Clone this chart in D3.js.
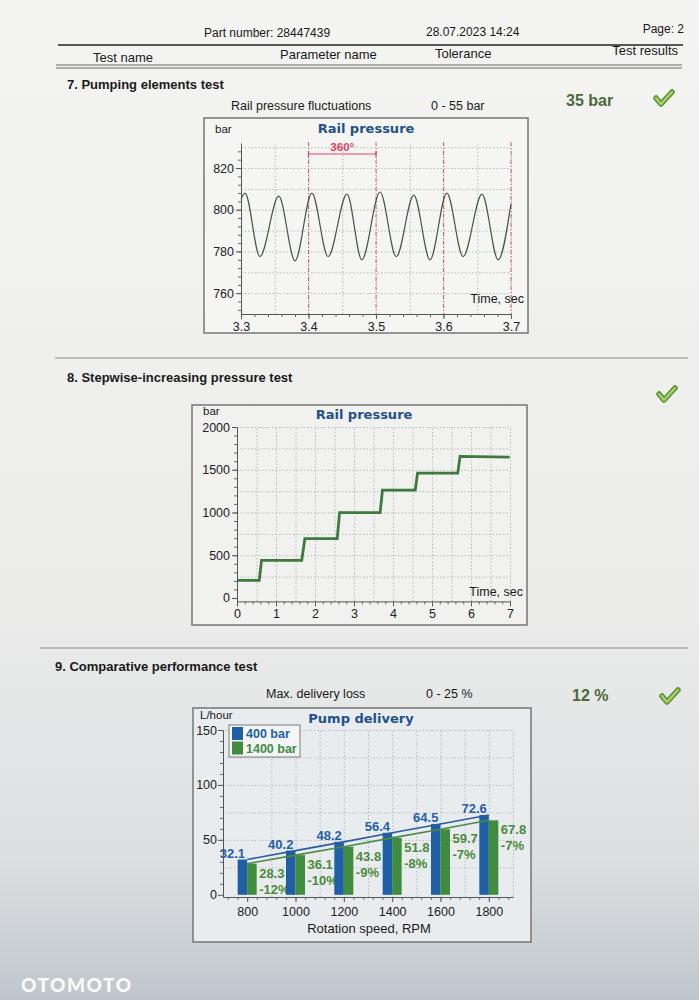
<!DOCTYPE html>
<html>
<head>
<meta charset="utf-8">
<script src="https://cdn.jsdelivr.net/npm/d3@7"></script>
<style>
body { margin: 0; background: #eee; }
svg text { font-family: "Liberation Sans", Arial, sans-serif; fill: #1a1a1a; }
.head { font-size: 12px; }
.colhead { font-size: 13px; }
.section { font-weight: bold; font-size: 13px; }
.param { font-size: 12.5px; }
.result { font-weight: bold; font-size: 16px; fill: #4b6a3a !important; }
.title { font-family: "DejaVu Sans", Verdana, sans-serif !important; font-weight: bold; font-size: 13px; fill: #24508c !important; }
.grid line { stroke: #b9b9b9; stroke-dasharray: 1.5,2; }
.grid path { display: none; }
.axis path, .axis line { stroke: #555; }
.axis text { font-size: 12.5px; fill: #222; }
.minor path { display: none; }
.minor line { stroke: #666; }
.unit { font-size: 11.5px; }
</style>
</head>
<body>
<div id="page"></div>
<script>
width = 699;
height = 1000;

// 7. rail pressure ripple: extrema
var ripple_time = [3.3, 3.306, 3.328, 3.356, 3.38, 3.405, 3.429, 3.457, 3.479, 3.506, 3.53, 3.556, 3.58, 3.605, 3.629, 3.657, 3.681, 3.7];
var ripple_bar  = [805, 808, 777.5, 806.5, 775.5, 808, 777.5, 807.5, 776, 808.5, 777.5, 807, 776, 808, 777.5, 807.5, 776, 803];
var ripple_yticks = [760, 780, 800, 820];
var ripple_xticks = [3.3, 3.4, 3.5, 3.6, 3.7];
var revolution_marks = [3.4, 3.5, 3.6, 3.7];

// 8. stepwise pressure
var step_time = [0, 0.57, 0.63, 1.66, 1.74, 2.57, 2.63, 3.67, 3.73, 4.57, 4.63, 5.66, 5.72, 6.99];
var step_bar  = [207, 207, 441, 441, 695, 695, 998, 998, 1262, 1262, 1461, 1461, 1656, 1648];
var step_yticks = [0, 500, 1000, 1500, 2000];
var step_xticks = [0, 1, 2, 3, 4, 5, 6, 7];

// 9. pump delivery
var rpm = [800, 1000, 1200, 1400, 1600, 1800];
var flow_400 = [32.1, 40.2, 48.2, 56.4, 64.5, 72.6];
var flow_1400 = [28.3, 36.1, 43.8, 51.8, 59.7, 67.8];
var loss_pct = ["-12%", "-10%", "-9%", "-8%", "-7%", "-7%"];
var flow_yticks = [0, 50, 100, 150];
var series_names = ["400 bar", "1400 bar"];

var blue = "#1f5fa6", green = "#3f8c3f";

var svg = d3.select("#page").append("svg").attr("width", width).attr("height", height);

var defs = svg.append("defs");
var paper = defs.append("linearGradient").attr("id", "paper").attr("x1", 0).attr("y1", 0).attr("x2", 0).attr("y2", 1);
paper.append("stop").attr("offset", "0%").attr("stop-color", "#f4f4f2");
paper.append("stop").attr("offset", "60%").attr("stop-color", "#ececeb");
paper.append("stop").attr("offset", "86%").attr("stop-color", "#dcdfe1");
paper.append("stop").attr("offset", "100%").attr("stop-color", "#bfc6cb");
svg.append("rect").attr("width", width).attr("height", height).attr("fill", "url(#paper)");

function text(x, y, s, cls, anchor) {
    return svg.append("text").attr("x", x).attr("y", y).attr("class", cls || "")
        .attr("text-anchor", anchor || "start").text(s);
}

function check(x, y) {
    var p = "M" + x + "," + (y + 1) + " l5,6 l11,-12";
    svg.append("path").attr("d", p).attr("fill", "none").attr("stroke", "#5d8f33")
        .attr("stroke-width", 5.5).attr("stroke-linecap", "round").attr("stroke-linejoin", "round");
    svg.append("path").attr("d", p).attr("fill", "none").attr("stroke", "#a6d36c")
        .attr("stroke-width", 2.5).attr("stroke-linecap", "round").attr("stroke-linejoin", "round");
}

function frame(x, y, w, h, fill) {
    svg.append("rect").attr("x", x).attr("y", y).attr("width", w).attr("height", h)
        .attr("fill", fill).attr("stroke", "#767676").attr("stroke-width", 1.5);
}

function grid(xs, ys, xvals, yvals, top, bottom, left, right) {
    svg.append("g").attr("class", "grid").attr("transform", "translate(0," + bottom + ")")
        .call(d3.axisBottom(xs).tickValues(xvals).tickSize(-(bottom - top)).tickFormat(""));
    svg.append("g").attr("class", "grid").attr("transform", "translate(" + left + ",0)")
        .call(d3.axisLeft(ys).tickValues(yvals).tickSize(-(right - left)).tickFormat(""));
}

function minor(axis, tx) {
    svg.append("g").attr("class", "minor").attr("transform", tx).call(axis.tickFormat("").tickSizeOuter(0));
}

// ---- header
text(204, 37, "Part number: 28447439", "head");
text(426, 36, "28.07.2023  14:24", "head");
text(684, 33, "Page: 2", "head", "end");
svg.append("line").attr("x1", 58).attr("x2", 683).attr("y1", 45).attr("y2", 45).attr("stroke", "#222").attr("stroke-width", 1.6);
text(93, 62, "Test name", "colhead");
text(280, 59, "Parameter name", "colhead");
text(435, 58, "Tolerance", "colhead");
text(678, 55, "Test results", "colhead", "end");
svg.append("line").attr("x1", 56).attr("x2", 682).attr("y1", 65).attr("y2", 65).attr("stroke", "#666").attr("stroke-width", 1);
svg.append("line").attr("x1", 56).attr("x2", 682).attr("y1", 68).attr("y2", 68).attr("stroke", "#666").attr("stroke-width", 1);

// ---- 7. pumping elements
text(67, 89, "7. Pumping elements test", "section");
text(231, 110, "Rail pressure fluctuations", "param");
text(431, 110, "0 - 55 bar", "param");
text(566, 106, "35 bar", "result");
check(656, 97);

frame(204, 118, 324, 215, "#f5f5f4");
var c1 = {left: 241, right: 511, top: 143, bottom: 314};
var x1 = d3.scaleLinear().domain([3.3, 3.7]).range([c1.left, c1.right]);
var y1 = d3.scaleLinear().domain([750, 832]).range([c1.bottom, c1.top]);
grid(x1, y1, d3.range(3.35, 3.71, 0.05), d3.range(760, 831, 10), c1.top, c1.bottom, c1.left, c1.right);

svg.selectAll(".rev").data(revolution_marks).enter().append("line")
    .attr("x1", d => x1(d)).attr("x2", d => x1(d)).attr("y1", 142).attr("y2", c1.bottom)
    .attr("stroke", "#df5a72").attr("stroke-width", 1).attr("stroke-dasharray", "4,2,1,2");
svg.append("line").attr("x1", x1(3.4)).attr("x2", x1(3.5)).attr("y1", 154).attr("y2", 154)
    .attr("stroke", "#df4a62").attr("stroke-width", 1);
[3.4, 3.5].forEach(function(t) {
    svg.append("line").attr("x1", x1(t)).attr("x2", x1(t)).attr("y1", 151).attr("y2", 157)
        .attr("stroke", "#df4a62").attr("stroke-width", 1.2);
});
text(x1(3.45), 151, "360°", "", "middle").attr("font-size", "11.5px").attr("font-weight", "bold").style("fill", "#e0425e");

var line1 = d3.line().x((d, i) => x1(ripple_time[i])).y(d => y1(d)).curve(d3.curveMonotoneX);
svg.append("path").datum(ripple_bar).attr("d", line1).attr("fill", "none")
    .attr("stroke", "#46593f").attr("stroke-width", 1.2);

svg.append("g").attr("class", "axis").attr("transform", "translate(" + c1.left + ",0)")
    .call(d3.axisLeft(y1).tickValues(ripple_yticks).tickSize(5).tickSizeOuter(0).tickPadding(2));
minor(d3.axisLeft(y1).tickValues(d3.range(752, 832, 4)).tickSize(3), "translate(" + c1.left + ",0)");
svg.append("g").attr("class", "axis").attr("transform", "translate(0," + c1.bottom + ")")
    .call(d3.axisBottom(x1).tickValues(ripple_xticks).tickFormat(d3.format(".1f")).tickSize(5).tickSizeOuter(0).tickPadding(3));
minor(d3.axisBottom(x1).tickValues(d3.range(3.32, 3.7, 0.02)).tickSize(3), "translate(0," + c1.bottom + ")");
text(215, 133, "bar", "unit");
text(366, 133, "Rail pressure", "title", "middle");
text(524, 303, "Time, sec", "axis", "end").attr("font-size", "12.5px");

svg.append("line").attr("x1", 55).attr("x2", 688).attr("y1", 358).attr("y2", 358).attr("stroke", "#8a8a8a");

// ---- 8. stepwise
text(67, 382, "8. Stepwise-increasing pressure test", "section");
check(659, 393);

frame(192, 405, 335, 220, "#f1f1f0");
var c2 = {left: 237, right: 510, top: 427, bottom: 601.4};
var x2 = d3.scaleLinear().domain([0, 7]).range([c2.left, c2.right]);
var y2 = d3.scaleLinear().domain([-40, 2000]).range([c2.bottom, c2.top]);
grid(x2, y2, d3.range(0.5, 7.01, 0.5), d3.range(250, 2001, 250), c2.top, c2.bottom, c2.left, c2.right);

var line2 = d3.line().x((d, i) => x2(step_time[i])).y(d => y2(d));
svg.append("path").datum(step_bar).attr("d", line2).attr("fill", "none")
    .attr("stroke", "#3d7a3b").attr("stroke-width", 2.8);

svg.append("g").attr("class", "axis").attr("transform", "translate(" + c2.left + ",0)")
    .call(d3.axisLeft(y2).tickValues(step_yticks).tickFormat(d3.format("d")).tickSize(5).tickSizeOuter(0).tickPadding(2));
minor(d3.axisLeft(y2).tickValues(d3.range(100, 2000, 100)).tickSize(3), "translate(" + c2.left + ",0)");
svg.append("g").attr("class", "axis").attr("transform", "translate(0," + c2.bottom + ")")
    .call(d3.axisBottom(x2).tickValues(step_xticks).tickFormat(d3.format("d")).tickSize(5).tickSizeOuter(0).tickPadding(3))
    .selectAll("text").attr("font-size", "13px");
minor(d3.axisBottom(x2).tickValues(d3.range(0.2, 7, 0.2)).tickSize(3), "translate(0," + c2.bottom + ")");
text(203, 415, "bar", "unit");
text(364, 419, "Rail pressure", "title", "middle");
text(523, 596, "Time, sec", "axis", "end").attr("font-size", "12.5px");

svg.append("line").attr("x1", 40).attr("x2", 688).attr("y1", 648).attr("y2", 648).attr("stroke", "#8a8a8a");

// ---- 9. comparative performance
text(55, 671, "9. Comparative performance test", "section");
text(266, 698, "Max. delivery loss", "param");
text(426, 698, "0 - 25 %", "param");
text(572, 701, "12 %", "result");
check(662, 695);

frame(193, 708, 338, 234, "#e9ecee");
var c3 = {left: 223, right: 513, top: 730, bottom: 897};
var x3 = d3.scaleLinear().domain([700, 1900]).range([c3.left, c3.right]);
var y3 = d3.scaleLinear().domain([-2, 150]).range([c3.bottom, c3.top]);
var sub = d3.scaleBand().domain(series_names).range([-9.5, 9.5]);
grid(x3, y3, d3.range(900, 1901, 100), d3.range(25, 151, 25), c3.top, c3.bottom, c3.left, c3.right);

// green labels go under the bars
svg.selectAll(".gval").data(flow_1400).enter().append("text")
    .attr("x", (d, i) => x3(rpm[i]) + sub.bandwidth() + 2.5).attr("y", d => y3(d) + 14)
    .attr("font-size", "13px").attr("font-weight", "bold").style("fill", "#4a8a3a").text(d => d.toFixed(1));
svg.selectAll(".gpct").data(loss_pct).enter().append("text")
    .attr("x", (d, i) => x3(rpm[i]) + sub.bandwidth() + 2.5).attr("y", (d, i) => y3(flow_1400[i]) + 30)
    .attr("font-size", "13px").attr("font-weight", "bold").style("fill", "#4a8a3a").text(d => d);

svg.selectAll(".b400").data(flow_400).enter().append("rect")
    .attr("x", (d, i) => x3(rpm[i]) + sub("400 bar")).attr("width", sub.bandwidth())
    .attr("y", d => y3(d)).attr("height", d => y3(0) - y3(d)).attr("fill", blue);
svg.selectAll(".b1400").data(flow_1400).enter().append("rect")
    .attr("x", (d, i) => x3(rpm[i]) + sub("1400 bar")).attr("width", sub.bandwidth())
    .attr("y", d => y3(d)).attr("height", d => y3(0) - y3(d)).attr("fill", green);

var line3 = d3.line().x((d, i) => x3(rpm[i])).y(d => y3(d));
svg.append("path").datum(flow_400).attr("d", line3).attr("fill", "none").attr("stroke", "#2b5c9c").attr("stroke-width", 1.6);
svg.append("path").datum(flow_1400).attr("d", line3).attr("fill", "none").attr("stroke", "#4c8a4a").attr("stroke-width", 1.6);

svg.selectAll(".bval").data(flow_400).enter().append("text")
    .attr("x", (d, i) => x3(rpm[i]) - sub.bandwidth() / 2 - 10).attr("y", d => y3(d) - 2)
    .attr("text-anchor", "middle").attr("font-size", "13px").attr("font-weight", "bold").style("fill", "#2360a8").text(d => d.toFixed(1));

svg.append("g").attr("class", "axis").attr("transform", "translate(" + c3.left + ",0)")
    .call(d3.axisLeft(y3).tickValues(flow_yticks).tickSize(5).tickSizeOuter(0).tickPadding(1));
minor(d3.axisLeft(y3).tickValues(d3.range(10, 150, 10)).tickSize(3), "translate(" + c3.left + ",0)");
svg.append("g").attr("class", "axis").attr("transform", "translate(0," + c3.bottom + ")")
    .call(d3.axisBottom(x3).tickValues(rpm).tickFormat(d3.format("d")).tickSize(5).tickSizeOuter(0).tickPadding(5))
    .selectAll("text").attr("font-size", "13px");
minor(d3.axisBottom(x3).tickValues(d3.range(720, 1900, 40)).tickSize(3), "translate(0," + c3.bottom + ")");
text(200, 719, "L/hour", "unit").attr("font-size", "12px");
text(361, 723, "Pump delivery", "title", "middle").attr("font-size", "12.5px");
text(369, 933, "Rotation speed, RPM", "").attr("font-size", "13px").attr("text-anchor", "middle");

// legend
svg.append("rect").attr("x", 229).attr("y", 725).attr("width", 71).attr("height", 32)
    .attr("fill", "#f3f5f7").attr("stroke", "#7a7a7a");
series_names.forEach(function(name, i) {
    var c = i == 0 ? blue : green;
    svg.append("rect").attr("x", 232).attr("y", 727 + i * 14.5).attr("width", 11).attr("height", 13).attr("fill", c);
    text(246, 738 + i * 14.5, name, "").attr("font-size", "12.5px").attr("font-weight", "bold").style("fill", c);
});

// watermark
svg.append("text").attr("x", 21).attr("y", 992).attr("font-size", "19px").attr("font-weight", "900")
    .attr("letter-spacing", "1.5").style("font-family", "Lato, 'DejaVu Sans', sans-serif")
    .style("fill", "#ffffff").style("opacity", 0.95).text("OTOMOTO");
</script>
</body>
</html>
